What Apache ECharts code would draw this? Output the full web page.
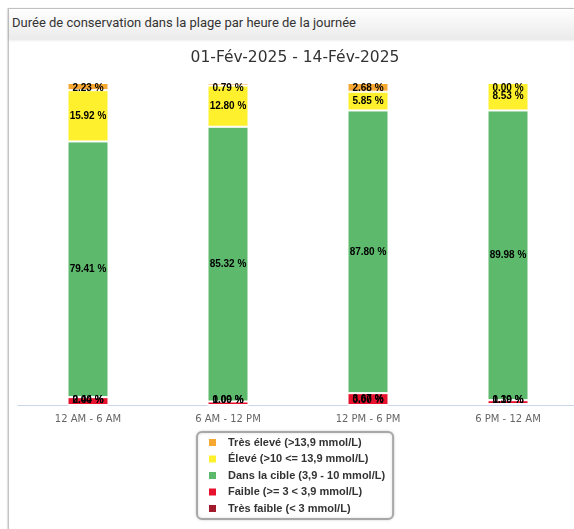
<!DOCTYPE html>
<html>
<head>
<meta charset="utf-8">
<script src="https://cdn.jsdelivr.net/npm/echarts@6/dist/echarts.min.js"></script>
<style>
  html, body { margin: 0; padding: 0; width: 574px; height: 529px; overflow: hidden; background: #fff; }
  #panel { position: absolute; left: 8px; top: 8px; width: 640px; height: 560px;
           border-left: 1px solid #c4c4c4; border-top: 1px solid #c4c4c4; box-shadow: -1px 0 1px #e2e2e2; }
  #head { position: absolute; left: 0; top: 0; right: 0; height: 30px;
          background: linear-gradient(#ffffff, #ebebeb);
          box-shadow: 0 1px 3px rgba(0,0,0,0.12);
          font: 13px Roboto, "Liberation Sans", sans-serif; color: #333; line-height: 28px; padding-left: 3px; }
  #chart { position: absolute; left: 0; top: 0; width: 590px; height: 529px; }
</style>
</head>
<body>
<div id="panel"><div id="head">Durée de conservation dans la plage par heure de la journée</div></div>
<div id="chart"></div>
<script>
// Time-in-range per period of the day (percent of readings)
const periods = ['12 AM - 6 AM', '6 AM - 12 PM', '12 PM - 6 PM', '6 PM - 12 AM'];
const veryHigh = [2.23, 0.79, 2.68, 0.00];
const high     = [15.92, 12.80, 5.85, 8.53];
const inTarget = [79.41, 85.32, 87.80, 89.98];
const low      = [2.44, 1.09, 3.67, 1.19];
const veryLow  = [0.00, 0.00, 0.00, 0.30];

const names = {
  veryHigh: 'Très élevé (>13,9 mmol/L)',
  high: 'Élevé (>10 <= 13,9 mmol/L)',
  inTarget: 'Dans la cible (3,9 - 10 mmol/L)',
  low: 'Faible (>= 3 < 3,9 mmol/L)',
  veryLow: 'Très faible (< 3 mmol/L)'
};
const colors = {
  veryHigh: '#f7a833', high: '#fff02e', inTarget: '#5dba6c', low: '#e8122e', veryLow: '#a11b2d'
};

const GRID_TOP = 83, GRID_H = 322;

function band(key, values) {
  return {
    name: names[key],
    type: 'bar',
    stack: 'tir',
    barWidth: 41,
    data: values,
    itemStyle: { color: colors[key], borderColor: '#ffffff', borderWidth: 1 },
    label: {
      show: true,
      position: 'inside',
      formatter: p => p.value.toFixed(2) + ' %',
      color: '#000',
      fontFamily: 'Liberation Sans',
      fontWeight: 'bold',
      fontSize: 10
    },
    // keep labels of thin segments inside the plot area
    labelLayout: function (p) {
      const r = p.labelRect;
      const cx = r.x + r.width / 2;
      const cy = r.y + r.height / 2;
      const minC = GRID_TOP + 5, maxC = GRID_TOP + GRID_H - 5;
      const y = Math.min(maxC, Math.max(minC, cy));
      return { x: cx, y: y, align: 'center', verticalAlign: 'middle' };
    }
  };
}

const chart = echarts.init(document.getElementById('chart'), null, { renderer: 'canvas' });
chart.setOption({
  animation: false,
  title: {
    text: '01-Fév-2025 - 14-Fév-2025',
    left: 'center',
    top: 45,
    textStyle: { fontFamily: 'DejaVu Sans', fontSize: 15.5, fontWeight: 'normal', color: '#333' }
  },
  grid: { left: 18, top: GRID_TOP, width: 560, height: GRID_H },
  xAxis: {
    type: 'category',
    data: periods,
    axisLine: { lineStyle: { color: '#ccd6eb' } },
    axisTick: { show: false },
    axisLabel: { color: '#666', fontFamily: 'DejaVu Sans', fontSize: 10, margin: 9 }
  },
  yAxis: { type: 'value', min: 0, max: 100, show: false },
  legend: {
    orient: 'vertical',
    left: 197,
    top: 432,
    padding: [5, 8, 5, 10],
    itemGap: 5.5,
    itemWidth: 9,
    itemHeight: 9,
    icon: 'rect',
    borderColor: '#a8a8a8',
    borderWidth: 2,
    borderRadius: 5,
    backgroundColor: '#fff',
    shadowColor: 'rgba(0,0,0,0.15)',
    shadowBlur: 3,
    data: [names.veryHigh, names.high, names.inTarget, names.low, names.veryLow],
    textStyle: { fontFamily: 'Liberation Sans', fontWeight: 'bold', fontSize: 11, color: '#333', padding: [0, 0, 0, 6] }
  },
  series: [
    band('veryLow', veryLow),
    band('low', low),
    band('inTarget', inTarget),
    band('high', high),
    band('veryHigh', veryHigh)
  ]
});
</script>
</body>
</html>
